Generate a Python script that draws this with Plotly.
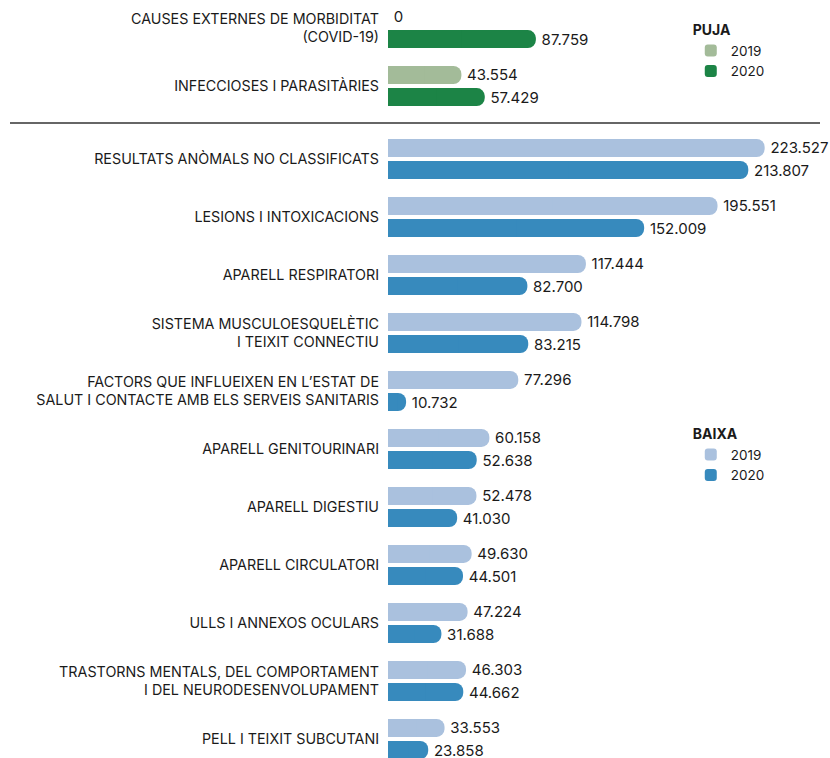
import plotly.graph_objects as go

# PUJA (increase) group
up_categories = ["CAUSES EXTERNES DE MORBIDITAT<br>(COVID-19)", "INFECCIOSES I PARASITÀRIES"]
up_2019 = [0, 43554]
up_2020 = [87759, 57429]

# BAIXA (decrease) group
down_categories = [
    "RESULTATS ANÒMALS NO CLASSIFICATS",
    "LESIONS I INTOXICACIONS",
    "APARELL RESPIRATORI",
    "SISTEMA MUSCULOESQUELÈTIC<br>I TEIXIT CONNECTIU",
    "FACTORS QUE INFLUEIXEN EN L’ESTAT DE<br>SALUT I CONTACTE AMB ELS SERVEIS SANITARIS",
    "APARELL GENITOURINARI",
    "APARELL DIGESTIU",
    "APARELL CIRCULATORI",
    "ULLS I ANNEXOS OCULARS",
    "TRASTORNS MENTALS, DEL COMPORTAMENT<br>I DEL NEURODESENVOLUPAMENT",
    "PELL I TEIXIT SUBCUTANI",
]
down_2019 = [223527, 195551, 117444, 114798, 77296, 60158, 52478, 49630, 47224, 46303, 33553]
down_2020 = [213807, 152009, 82700, 83215, 10732, 52638, 41030, 44501, 31688, 44662, 23858]

FONT = "Inter"
BAR_W = 0.31
OFFSETS = {"2019": -0.345, "2020": 0.035}

fig = go.Figure()


def add_group(cats, v19, v20, colors, yaxis, legend):
    xaxis = "x" if yaxis == "y" else "x2"
    for name, vals in (("2019", v19), ("2020", v20)):
        # rounded bar carrying the label
        fig.add_trace(go.Bar(
            y=cats, x=vals, orientation="h", name=name, yaxis=yaxis, xaxis=xaxis,
            width=BAR_W, offset=OFFSETS[name],
            marker=dict(color=colors[name], cornerradius=9, line_width=0),
            texttemplate="\u2009%{x:,}", textposition="outside", cliponaxis=False,
            constraintext="none", textfont=dict(family=FONT, size=15, color="#1a1a1a"),
            legend=legend,
        ))
        # square-cornered left half so only the right end looks rounded
        fig.add_trace(go.Bar(
            y=cats, x=[v / 2 for v in vals], orientation="h", yaxis=yaxis, xaxis=xaxis,
            width=BAR_W, offset=OFFSETS[name],
            marker=dict(color=colors[name], line_width=0),
            showlegend=False, hoverinfo="skip", legend=legend,
        ))


add_group(up_categories, up_2019, up_2020, {"2019": "#a3bb99", "2020": "#1c8446"}, "y", "legend")
add_group(down_categories, down_2019, down_2020, {"2019": "#aac1de", "2020": "#378abd"}, "y2", "legend2")

H = 758
xrange = [0, 262300]
axis_font = dict(family=FONT, size=14.3, color="#1a1a1a")
legend_style = dict(x=0.685, xanchor="left", yanchor="top", traceorder="normal",
                    font=dict(family=FONT, size=13.5, color="#1a1a1a"), bgcolor="rgba(0,0,0,0)")

fig.update_layout(
    width=830, height=H, barmode="overlay", separators=",.",
    margin=dict(l=388, r=0, t=0, b=0),
    plot_bgcolor="white", paper_bgcolor="white",
    font=dict(family=FONT, size=14, color="#1a1a1a"),
    xaxis=dict(range=xrange, visible=False, domain=[0, 1], anchor="y"),
    xaxis2=dict(range=xrange, visible=False, domain=[0, 1], anchor="y2"),
    yaxis=dict(type="category", range=[1.586, -0.483], domain=[1 - 120 / H, 1], anchor="x",
               showgrid=False, showline=False, ticks="", ticklabelstandoff=8, tickfont=axis_font),
    yaxis2=dict(type="category", range=[10.328, -0.569], domain=[0, 1 - 126 / H], anchor="x2",
                showgrid=False, showline=False, ticks="", ticklabelstandoff=8, tickfont=axis_font),
    legend=dict(title=dict(text="<b>PUJA</b>", side="top", font=dict(family=FONT, size=14)),
                y=1 - 17 / H, **legend_style),
    legend2=dict(title=dict(text="<b>BAIXA</b>", side="top", font=dict(family=FONT, size=14)),
                 y=1 - 421 / H, **legend_style),
    showlegend=True,
)

fig.add_shape(type="line", xref="paper", yref="paper", x0=(10 - 388) / 442, x1=(820 - 388) / 442,
              y0=1 - 123 / H, y1=1 - 123 / H, line=dict(color="#333333", width=1.5))

fig.write_html("out.html", config={"displayModeBar": False},
               post_script="document.body.style.margin='0';")
